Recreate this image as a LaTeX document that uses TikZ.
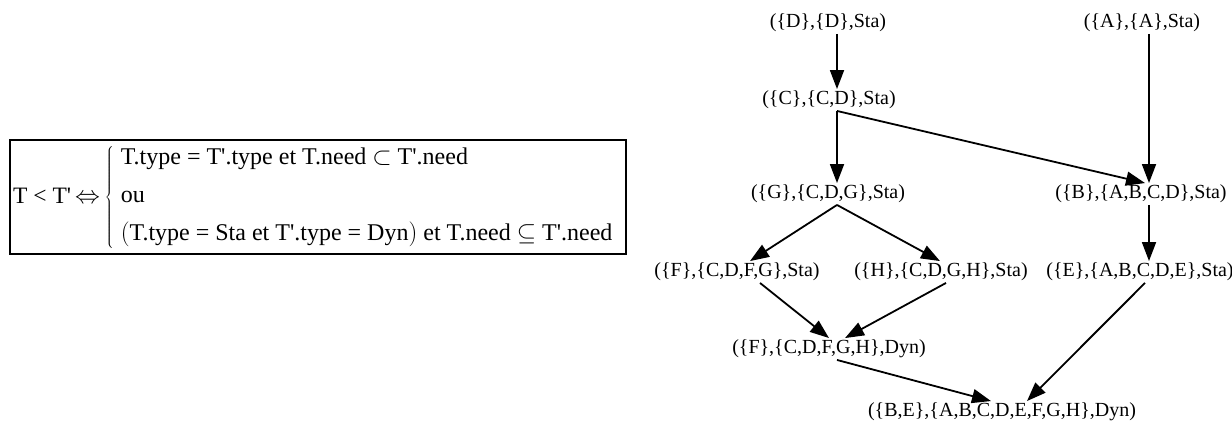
\documentclass[tikz,border=0pt]{standalone}
\usepackage{fontspec}
\setmainfont{Liberation Serif}
\usetikzlibrary{arrows.meta}
\begin{document}
\begin{tikzpicture}[x=1pt,y=-1pt,
  state/.style={inner xsep=0pt, inner ysep=2pt, text height=13.5pt, text depth=4pt,
                font=\fontsize{20}{23}\selectfont},
  edge/.style={line width=1.8pt, -{Triangle[length=19pt,width=14pt]}},
  relbox/.style={draw, line width=2.5pt, minimum width=616pt, minimum height=114pt, inner sep=0pt}]
\useasboundingbox (0,0) rectangle (1232,421);

% ordering relation between tasks
\node[relbox] (box) at (318,197) {};
\node[anchor=west, inner sep=0pt, font=\fontsize{23.5}{27}\selectfont] (rel) at (13,197)
  {T < T\textquotesingle\,$\Leftrightarrow$\hspace{5pt}$\left\{\fontsize{24}{28}\selectfont
   \begin{tabular}{@{\hspace{7pt}}l@{}}
   T.type = T\textquotesingle.type et T.need $\subset$ T\textquotesingle.need\\[10pt]
   ou\\[10pt]
   $\big($T.type = Sta et T\textquotesingle.type = Dyn$\big)$ et T.need $\subseteq$ T\textquotesingle.need
   \end{tabular}\right.$};

% task states
\node[state] (D)  at (828,23)  {(\{D\},\{D\},Sta)};
\node[state] (A)  at (1142,23) {(\{A\},\{A\},Sta)};
\node[state] (C)  at (829,100) {(\{C\},\{C,D\},Sta)};
\node[state] (G)  at (828,194) {(\{G\},\{C,D,G\},Sta)};
\node[state] (B)  at (1141,194) {(\{B\},\{A,B,C,D\},Sta)};
\node[state] (F)  at (737,272) {(\{F\},\{C,D,F,G\},Sta)};
\node[state] (H)  at (941,272) {(\{H\},\{C,D,G,H\},Sta)};
\node[state] (E)  at (1140,272) {(\{E\},\{A,B,C,D,E\},Sta)};
\node[state] (FD) at (829,349) {(\{F\},\{C,D,F,G,H\},Dyn)};
\node[state] (BE) at (1002,412) {(\{B,E\},\{A,B,C,D,E,F,G,H\},Dyn)};

% transitions
\draw[edge] ([xshift=9pt]D.south) -- ([xshift=8pt]C.north);
\draw[edge] ([xshift=7pt]A.south) -- ([xshift=8pt]B.north);
\draw[edge] ([xshift=8pt]C.south) -- ([xshift=9pt]G.north);
\draw[edge] ([xshift=8pt]C.south) -- ([xshift=4pt]B.north);
\draw[edge] ([xshift=9pt]G.south) -- ([xshift=13pt]F.north);
\draw[edge] ([xshift=9pt]G.south) -- ([xshift=-1pt]H.north);
\draw[edge] ([xshift=8pt]B.south) -- ([xshift=9pt]E.north);
\draw[edge] ([xshift=23pt]F.south) -- ([xshift=0pt]FD.north);
\draw[edge] ([xshift=5pt]H.south) -- ([xshift=16pt]FD.north);
\draw[edge] ([xshift=8pt]FD.south) -- ([xshift=-11pt]BE.north);
\draw[edge] ([xshift=5pt]E.south) -- ([xshift=25pt]BE.north);
\end{tikzpicture}
\end{document}
